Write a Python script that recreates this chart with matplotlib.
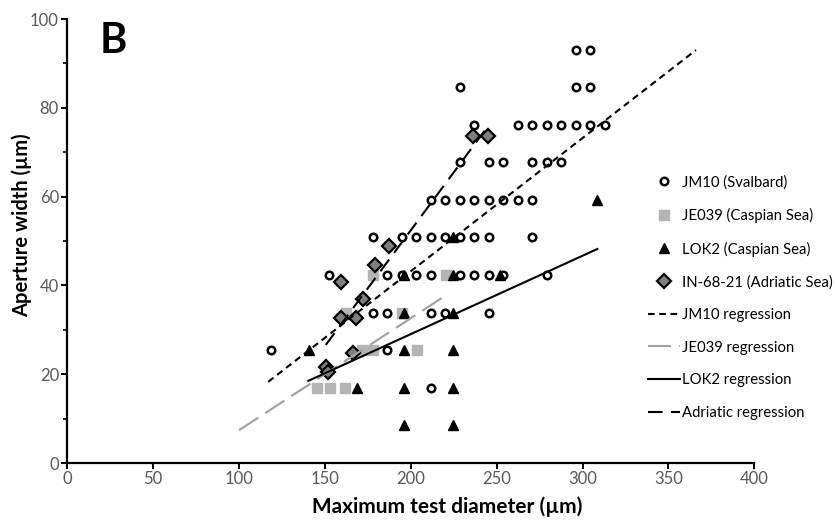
import matplotlib
matplotlib.use("Agg")
import matplotlib.pyplot as plt
from matplotlib.ticker import MultipleLocator

plt.rcParams['font.family'] = ['Lato', 'DejaVu Sans']

# JM10 (Svalbard)
jm10_x = [118.4, 211.5, 186.1,
          177.7, 186.1, 211.5, 220.0, 245.3,
          152.3, 186.1, 194.6, 203.0, 211.5, 228.4, 236.9, 245.3, 253.8, 279.2,
          177.7, 194.6, 203.0, 211.5, 220.0, 228.4, 236.9, 245.3, 270.7,
          211.5, 220.0, 228.4, 236.9, 245.3, 253.8, 262.3, 270.7,
          228.4, 245.3, 253.8, 270.7, 279.2, 287.6,
          236.9, 262.3, 270.7, 279.2, 287.6, 296.1, 304.6, 313.0,
          228.4, 296.1, 304.6,
          296.1, 304.6]
jm10_y = [25.4, 16.9, 25.4,
          33.8, 33.8, 33.8, 33.8, 33.8,
          42.3, 42.3, 42.3, 42.3, 42.3, 42.3, 42.3, 42.3, 42.3, 42.3,
          50.8, 50.8, 50.8, 50.8, 50.8, 50.8, 50.8, 50.8, 50.8,
          59.2, 59.2, 59.2, 59.2, 59.2, 59.2, 59.2, 59.2,
          67.7, 67.7, 67.7, 67.7, 67.7, 67.7,
          76.1, 76.1, 76.1, 76.1, 76.1, 76.1, 76.1, 76.1,
          84.6, 84.6, 84.6,
          93.1, 93.1]

# JE039 (Caspian Sea)
je039_x = [145.3, 153.0, 161.6, 171.4, 178.2, 203.4, 162.0, 194.7, 177.8, 220.5]
je039_y = [16.9, 16.9, 16.9, 25.4, 25.4, 25.4, 33.8, 33.8, 42.3, 42.3]

# LOK2 (Caspian Sea)
lok2_x = [140.9, 168.5,
          196.0, 196.0, 196.0, 196.0, 196.0,
          224.7, 224.7, 224.7, 224.7, 224.7, 224.7,
          251.9, 308.6]
lok2_y = [25.4, 16.9,
          8.5, 16.9, 25.4, 33.8, 42.3,
          8.5, 16.9, 25.4, 33.8, 42.3, 50.8,
          42.3, 59.2]

# IN-68-21 (Adriatic Sea)
adr_x = [150.6, 151.5, 159.2, 159.2, 166.5, 168.0, 172.0, 179.2, 187.5, 236.2, 245.0]
adr_y = [21.7, 20.5, 32.6, 40.7, 24.7, 32.6, 36.9, 44.6, 48.9, 73.6, 73.6]

# regression line end points as drawn
jm10_fit_x, jm10_fit_y = [117.0, 366.0], [18.3, 93.0]
je039_fit_x, je039_fit_y = [100.0, 218.6], [7.4, 37.3]
lok2_fit_x, lok2_fit_y = [140.3, 308.6], [18.5, 48.2]
adr_fit_x, adr_fit_y = [150.5, 245.0], [26.6, 75.9]

fig = plt.figure(figsize=(8.35, 5.22), dpi=100)
ax = fig.add_axes([0.0806, 0.1130, 0.8228, 0.8506])

ax.plot(jm10_x, jm10_y, ls="none", marker="o", ms=5.4, mfc="white", mec="black",
        mew=1.8, label="JM10 (Svalbard)", zorder=3)
ax.plot(je039_x, je039_y, ls="none", marker="s", ms=6.5, mfc="#b4b4b4", mec="#b4b4b4",
        label="JE039 (Caspian Sea)", zorder=3)
ax.plot(lok2_x, lok2_y, ls="none", marker="^", ms=7.5, color="black",
        label="LOK2 (Caspian Sea)", zorder=3)
ax.plot(adr_x, adr_y, ls="none", marker="D", ms=6.8, mfc="#7f7f7f", mec="black",
        mew=1.6, label="IN-68-21 (Adriatic Sea)", zorder=3)

ax.plot(jm10_fit_x, jm10_fit_y, color="black", lw=1.5, dashes=(3.2, 2.2),
        label="JM10 regression", zorder=4)
ax.plot(je039_fit_x, je039_fit_y, color="#a0a0a0", lw=1.5, dashes=(11, 4),
        label="JE039 regression", zorder=4)
ax.plot(lok2_fit_x, lok2_fit_y, color="black", lw=1.5,
        label="LOK2 regression", zorder=4)
ax.plot(adr_fit_x, adr_fit_y, color="black", lw=1.5, dashes=(7, 4),
        label="Adriatic regression", zorder=4)

ax.set_xlim(0, 400)
ax.set_ylim(0, 100)
ax.xaxis.set_major_locator(MultipleLocator(50))
ax.yaxis.set_major_locator(MultipleLocator(20))
ax.yaxis.set_minor_locator(MultipleLocator(10))
for s in ("top", "right"):
    ax.spines[s].set_visible(False)
for s in ("left", "bottom"):
    ax.spines[s].set_linewidth(1.6)
ax.tick_params(which="major", direction="out", length=4, width=1.4,
               labelsize=12, labelcolor="#595959", pad=2)
ax.tick_params(which="minor", direction="out", length=3, width=1.2)

fig.text(447 / 835, 1 - 507 / 522, "Maximum test diameter (µm)", ha="center", va="center",
         fontsize=15, fontweight="bold")
fig.text(22 / 835, 1 - 225 / 522, "Aperture width (µm)", ha="center", va="center",
         rotation=90, fontsize=14.5, fontweight="bold")
fig.text(100 / 835, 1 - 22 / 522, "B", ha="left", va="top", fontsize=30, fontweight="bold")

ax.legend(loc="upper left", bbox_to_anchor=(648 / 835, 1 - 175 / 522),
          bbox_transform=fig.transFigure, frameon=False, fontsize=10.7,
          handlelength=2.15, handletextpad=0.15, labelspacing=1.25,
          borderpad=0, borderaxespad=0, numpoints=1)

fig.savefig("out.png", dpi=100)
